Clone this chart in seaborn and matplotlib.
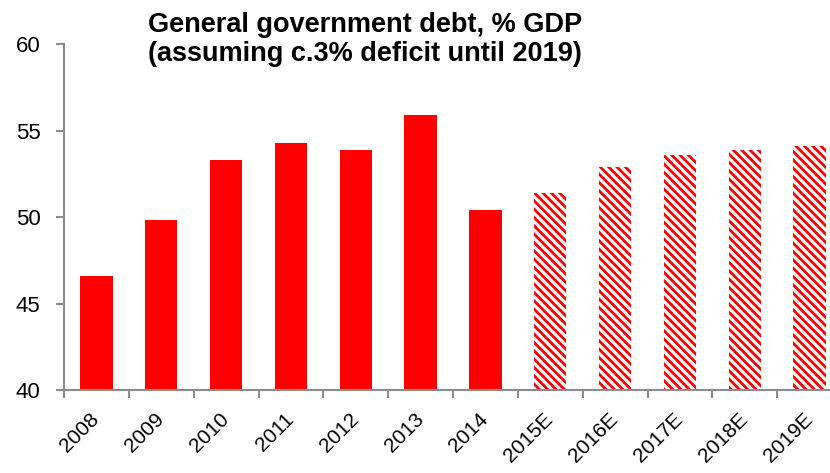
import matplotlib
matplotlib.use("Agg")
import matplotlib.pyplot as plt
import seaborn as sns
import pandas as pd

categories = ["2008", "2009", "2010", "2011", "2012", "2013", "2014",
              "2015E", "2016E", "2017E", "2018E", "2019E"]
debt = [46.6, 49.8, 53.3, 54.3, 53.9, 55.9, 50.4,
        51.4, 52.9, 53.6, 53.9, 54.1]
forecast_start = 7
title_text = "General government debt, % GDP\n(assuming c.3% deficit until 2019)"
yticks = [40, 45, 50, 55, 60]

sns.set_style("white")
plt.rcParams['font.family'] = ['Liberation Sans', 'DejaVu Sans']
plt.rcParams['hatch.linewidth'] = 2.0

df = pd.DataFrame({"year": categories, "debt": debt})

fig = plt.figure(figsize=(8.30, 4.73), dpi=100)
ax = fig.add_axes([64/830, 83/473, 778/830, 346/473])
sns.barplot(data=df, x="year", y="debt", color="#ff0000", saturation=1,
            width=0.5, ax=ax)

for i, p in enumerate(ax.patches):
    p.set_linewidth(0)
    if i >= forecast_start:
        p.set_facecolor("white")
        p.set_edgecolor("#ff0000")
        p.set_hatch("\\\\\\\\")

ax.set_ylim(40, 60)
ax.set_xlim(-0.5, 11.5)
ax.set_yticks(yticks)
ax.set_xticks([x - 0.5 for x in range(len(categories) + 1)], minor=False)
ax.set_xticklabels([""] * (len(categories) + 1))
ax.set_xticks(range(len(categories)), minor=True)
ax.set_xticklabels(categories, minor=True, rotation=45, ha="right",
                   va="center", rotation_mode="anchor", fontsize=15, color="black")
ax.tick_params(axis="x", which="minor", length=0, pad=19)
ax.tick_params(axis="x", which="major", length=6, width=1.5, color="#8c8c8c",
               direction="out", bottom=True)
ax.tick_params(axis="y", length=6, width=1.5, color="#8c8c8c",
               direction="out", left=True, labelsize=16, pad=11,
               labelcolor="black")
ax.set_xlabel("")
ax.set_ylabel("")

for s in ["top", "right"]:
    ax.spines[s].set_visible(False)
for s in ["left", "bottom"]:
    ax.spines[s].set_color("#8c8c8c")
    ax.spines[s].set_linewidth(1.5)

fig.text(148/830, 1 - 12/473, title_text, ha="left", va="top",
         fontsize=19.5, fontweight="bold", color="black", linespacing=1.15)

fig.savefig("out.png", dpi=100)
